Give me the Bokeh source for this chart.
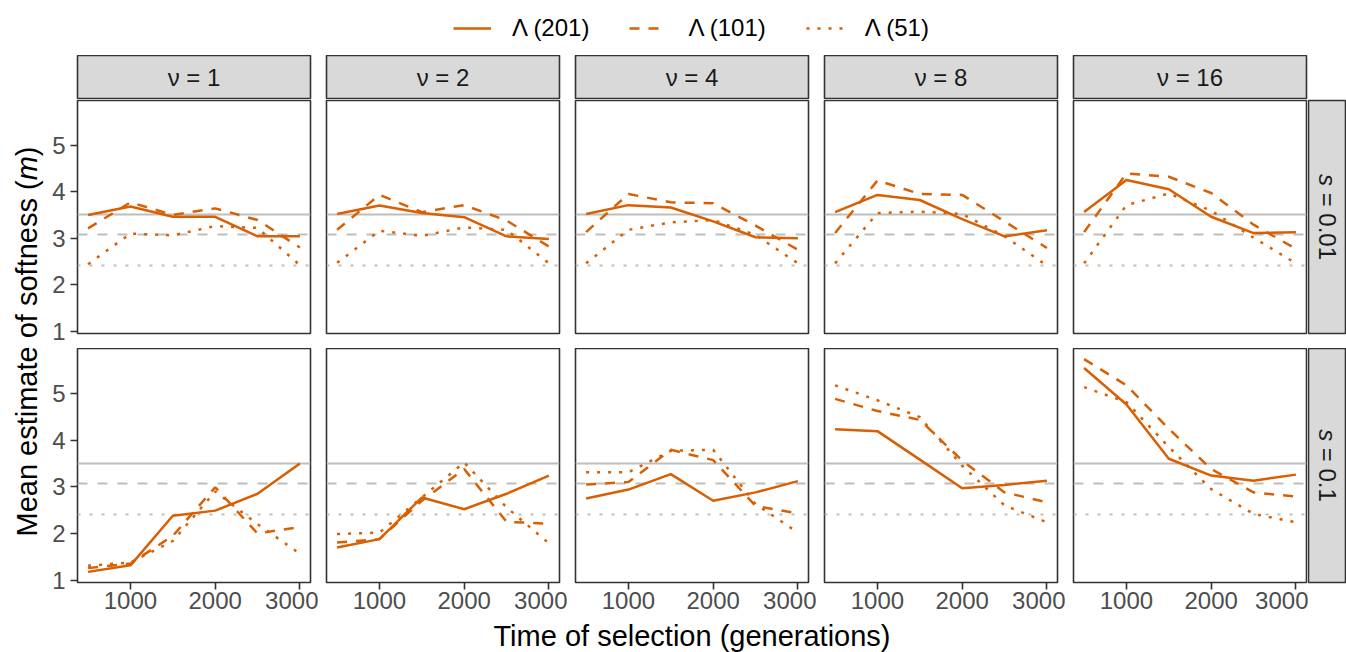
import math
from bokeh.plotting import figure
from bokeh.models import Range1d, FixedTicker, Legend, LegendItem, Label, Spacer
from bokeh.layouts import row, column
from bokeh.embed import file_html
from bokeh.resources import INLINE

# ---------------- data ----------------
generations = [500, 1000, 1500, 2000, 2500, 3000]
nu_values = [1, 2, 4, 8, 16]
s_labels = ["0.01", "0.1"]
series_labels = ["\u039b (201)", "\u039b (101)", "\u039b (51)"]
reference_m = [3.50, 3.07, 2.41]   # grey reference lines (one per Λ)

# s = 0.01 ; one list per ν
m201_s001 = [
    [3.50, 3.68, 3.46, 3.46, 3.04, 3.04],
    [3.52, 3.70, 3.54, 3.45, 3.04, 2.98],
    [3.52, 3.71, 3.66, 3.36, 3.02, 3.00],
    [3.56, 3.93, 3.82, 3.41, 3.04, 3.17],
    [3.56, 4.25, 4.05, 3.46, 3.11, 3.13],
]
m101_s001 = [
    [3.21, 3.77, 3.50, 3.64, 3.39, 2.80],
    [3.18, 3.93, 3.56, 3.71, 3.38, 2.82],
    [3.13, 3.95, 3.77, 3.75, 3.27, 2.75],
    [3.11, 4.24, 3.95, 3.93, 3.36, 2.79],
    [3.13, 4.39, 4.32, 3.97, 3.29, 2.77],
]
m51_s001 = [
    [2.44, 3.10, 3.06, 3.26, 3.22, 2.42],
    [2.47, 3.16, 3.05, 3.23, 3.18, 2.46],
    [2.46, 3.18, 3.34, 3.39, 3.07, 2.46],
    [2.46, 3.54, 3.57, 3.52, 3.04, 2.41],
    [2.46, 3.71, 3.96, 3.59, 3.01, 2.46],
]
# s = 0.1
m201_s01 = [
    [1.18, 1.32, 2.38, 2.49, 2.85, 3.50],
    [1.70, 1.88, 2.77, 2.52, 2.85, 3.24],
    [2.75, 2.94, 3.27, 2.70, 2.88, 3.12],
    [4.23, 4.19, 3.58, 2.97, 3.04, 3.13],
    [5.54, 4.76, 3.60, 3.24, 3.13, 3.26],
]
m101_s01 = [
    [1.26, 1.36, 1.95, 2.99, 2.00, 2.14],
    [1.81, 1.88, 2.70, 3.38, 2.25, 2.21],
    [3.05, 3.10, 3.79, 3.57, 2.59, 2.43],
    [4.88, 4.62, 4.43, 3.56, 2.88, 2.67],
    [5.73, 5.17, 4.24, 3.38, 2.88, 2.79],
]
m51_s01 = [
    [1.31, 1.38, 1.84, 2.90, 2.20, 1.57],
    [1.99, 2.02, 2.77, 3.52, 2.56, 1.79],
    [3.31, 3.31, 3.77, 3.79, 2.63, 2.02],
    [5.17, 4.85, 4.49, 3.45, 2.60, 2.24],
    [5.13, 4.81, 3.85, 2.95, 2.42, 2.24],
]
rows_data = [[m201_s001, m101_s001, m51_s001], [m201_s01, m101_s01, m51_s01]]

# ---------------- style ----------------
FONT = "Liberation Sans"
ORANGE = "#D95F02"
GREY = "#BEBEBE"
DARK = "#333333"
STRIP = "#D9D9D9"
LW = 2.5
series_dashes = ["solid", "10 9", "3 8"]
ref_dashes = ["solid", "10 10", "3 9"]
SMALL = 24
BIG = 29

all_vals = [v for r in rows_data for s in r for lst in s for v in lst]
lo, hi = min(all_vals), max(all_vals)
pad = 0.05 * (hi - lo)
y_rng = Range1d(lo - pad, hi + pad)
xpad = 0.05 * (max(generations) - min(generations))
x_rng = Range1d(min(generations) - xpad, max(generations) + xpad)

FRAME_W = 233
col_left = [32, 8, 8, 8, 8]
col_right = [8, 8, 8, 8, 2]
row_frame_h = [233, 234]
row_top = [1, 0]
row_bottom = [15, 37]
XT_H = 33


def base_fig(**kw):
    p = figure(toolbar_location=None, output_backend="svg", **kw)
    p.grid.visible = False
    return p


def panel(ri, ci):
    p = base_fig(frame_width=FRAME_W, frame_height=row_frame_h[ri],
                 x_range=x_rng, y_range=y_rng,
                 x_axis_location="below" if ri == 1 else None,
                 y_axis_location="left" if ci == 0 else None,
                 min_border_left=col_left[ci], min_border_right=col_right[ci],
                 min_border_top=row_top[ri], min_border_bottom=row_bottom[ri],
                 outline_line_color=DARK, outline_line_width=1.6)
    for v, d in zip(reference_m, ref_dashes):
        p.hspan(y=[v], line_color=GREY, line_width=2, line_dash=d)
    for series, d in zip(rows_data[ri], series_dashes):
        p.line(generations, series[ci], line_color=ORANGE, line_width=LW, line_dash=d)
    p.xaxis.ticker = FixedTicker(ticks=[1000, 2000, 3000])
    p.yaxis.ticker = FixedTicker(ticks=[1, 2, 3, 4, 5])
    p.axis.axis_line_color = None
    p.axis.major_tick_line_color = DARK
    p.axis.major_tick_line_width = 1.6
    p.axis.major_tick_in = 0
    p.axis.major_tick_out = 7
    p.axis.minor_tick_line_color = None
    p.axis.major_label_text_font = FONT
    p.axis.major_label_text_font_size = f"{SMALL}px"
    p.axis.major_label_text_color = "#4D4D4D"
    p.xaxis.major_label_standoff = 2
    p.yaxis.major_label_standoff = 5
    return p


def top_strip(ci):
    s = base_fig(frame_width=FRAME_W, frame_height=43,
                 x_range=Range1d(0, 1), y_range=Range1d(0, 1),
                 x_axis_location=None, y_axis_location=None,
                 min_border_left=col_left[ci], min_border_right=col_right[ci],
                 min_border_top=0, min_border_bottom=1,
                 background_fill_color=STRIP, outline_line_color=DARK,
                 outline_line_width=1.6)
    s.add_layout(Label(x=0.5, y=0.5, text=f"\u03bd = {nu_values[ci]}",
                       text_align="center", text_baseline="middle",
                       text_font=FONT, text_font_size=f"{SMALL}px",
                       text_color="#1A1A1A"))
    return s


def right_strip(ri):
    h = row_frame_h[ri]
    s = base_fig(frame_width=37, frame_height=h,
                 x_range=Range1d(0, 37), y_range=Range1d(0, h),
                 x_axis_location=None, y_axis_location=None,
                 min_border_left=0, min_border_right=1,
                 min_border_top=row_top[ri], min_border_bottom=row_bottom[ri],
                 background_fill_color=STRIP, outline_line_color=DARK,
                 outline_line_width=1.6)
    rest = f"= {s_labels[ri]}"
    w_s = 0.5 * SMALL
    w_sp = 0.278 * SMALL
    w_rest = 0.584 * SMALL + 0.278 * SMALL + 0.556 * SMALL * (len(s_labels[ri]) - 1) + 0.278 * SMALL
    total = w_s + w_sp + w_rest
    top = h / 2 + total / 2
    common = dict(x=19, angle=-math.pi / 2, text_align="left", text_baseline="middle",
                  text_font=FONT, text_font_size=f"{SMALL}px", text_color="#1A1A1A")
    s.add_layout(Label(y=top, text="s", text_font_style="italic", **common))
    s.add_layout(Label(y=top - w_s - w_sp, text=rest, **common))
    return s


# legend (proxy renderers: data lies outside this figure's visible range)
leg = base_fig(width=1346, height=55, x_range=Range1d(0, 1), y_range=Range1d(0, 1),
               x_axis_location=None, y_axis_location=None, min_border=0,
               outline_line_color=None)
items = []
for lab, d, series in zip(series_labels, series_dashes, rows_data[0]):
    r = leg.line(x=generations, y=series[0], line_color=ORANGE, line_width=LW, line_dash=d)
    items.append(LegendItem(label=lab, renderers=[r]))
legend = Legend(items=items, orientation="horizontal", location=(453, 13),
                padding=0, margin=0, spacing=40, glyph_width=38, glyph_height=28,
                label_standoff=21, label_text_font=FONT, label_text_font_size=f"{SMALL}px",
                label_text_color="#000000", border_line_color=None,
                background_fill_alpha=0)
leg.add_layout(legend, "center")

# y-axis title
YT_H = 44 + 249 + 234 + row_bottom[1]
ytf = base_fig(width=45, height=YT_H, x_range=Range1d(0, 45), y_range=Range1d(0, YT_H),
               x_axis_location=None, y_axis_location=None, min_border=0,
               outline_line_color=None)
w1 = 12.283 * BIG
w2 = 0.833 * BIG
yc = YT_H - (341 - 55)
y0 = yc - (w1 + w2 + 0.333 * BIG) / 2
ycommon = dict(x=26, angle=math.pi / 2, text_align="left", text_baseline="middle",
               text_font=FONT, text_font_size=f"{BIG}px", text_color="#000000")
ytf.add_layout(Label(y=y0, text="Mean estimate of softness (", **ycommon))
ytf.add_layout(Label(y=y0 + w1, text="m", text_font_style="italic", **ycommon))
ytf.add_layout(Label(y=y0 + w1 + w2, text=")", **ycommon))

# x-axis title
xtf = base_fig(width=1346, height=XT_H, x_range=Range1d(0, 1346), y_range=Range1d(0, XT_H),
               x_axis_location=None, y_axis_location=None, min_border=0,
               outline_line_color=None)
xtf.add_layout(Label(x=691.5, y=XT_H / 2, text="Time of selection (generations)",
                     text_align="center", text_baseline="middle",
                     text_font=FONT, text_font_size=f"{BIG}px", text_color="#000000"))

strip_row = row([top_strip(c) for c in range(5)] + [Spacer(width=38, height=44)])
top_row = row([panel(0, c) for c in range(5)] + [right_strip(0)])
bottom_row = row([panel(1, c) for c in range(5)] + [right_strip(1)])

layout = column(leg, row(ytf, column(strip_row, top_row, bottom_row)), xtf)

open("out.html", "w").write(file_html(layout, INLINE))
